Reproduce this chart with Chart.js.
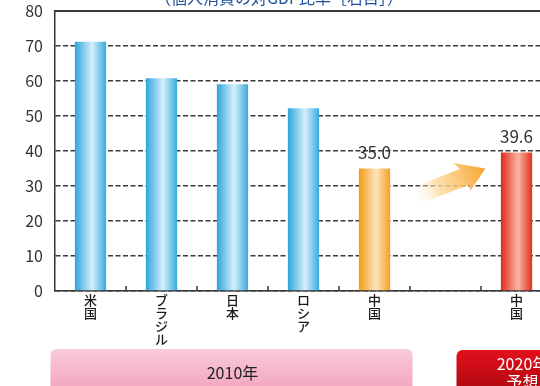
<!DOCTYPE html>
<html lang="ja">
<head>
<meta charset="utf-8">
<script src="https://cdn.jsdelivr.net/npm/chart.js@4/dist/chart.umd.min.js"></script>
<style>
  html, body { margin: 0; padding: 0; background: #fff; overflow: hidden; }
  #wrap { width: 560px; height: 386px; }
</style>
</head>
<body>
<div id="wrap"><canvas id="c" width="560" height="386"></canvas></div>
<script>
// 個人消費の対GDP比率（%）
const categories = [['米','国'], ['ブ','ラ','ジ','ル'], ['日','本'], ['ロ','シ','ア'], ['中','国'], '', ['中','国']];
const ratios = [71.2, 60.8, 59.1, 52.2, 35.0, null, 39.6];
const barKinds = ['blue', 'blue', 'blue', 'blue', 'orange', 'blue', 'red'];
const labelledBars = [4, 6];
const yTicks = [0, 10, 20, 30, 40, 50, 60, 70, 80];
const chartTitle = '（個人消費の対GDP比率［右目］）';
const periodLabels = ['2010年', ['2020年', '予想']];

const FONT = '"Noto Sans CJK JP", "Noto Sans", sans-serif';

const palettes = {
  blue:   ['#2ea4dc', '#d6f0fb', '#38aadf'],
  orange: ['#f59a12', '#fde4bc', '#f5a122'],
  red:    ['#e2281a', '#f7b6a4', '#e5301e']
};

function barGradient(ctx) {
  const chart = ctx.chart;
  const kind = barKinds[ctx.dataIndex] || 'blue';
  const p = palettes[kind];
  if (!chart.chartArea || !chart.scales.x) return p[0];
  const xs = chart.scales.x;
  const cx = xs.getPixelForValue(ctx.dataIndex);
  const w = (xs.width / categories.length) * 0.44;
  const g = chart.ctx.createLinearGradient(cx - w / 2, 0, cx + w / 2, 0);
  g.addColorStop(0, p[0]);
  g.addColorStop(0.55, p[1]);
  g.addColorStop(1, p[2]);
  return g;
}

const decorations = {
  id: 'decorations',
  beforeDatasetsDraw(chart) {
    const { ctx, scales: { x, y } } = chart;
    // orange arrow between the two 中国 bars
    const tailX = x.getPixelForValue(4) + 40, tailY = y.getPixelForValue(27);
    const tipX = x.getPixelForValue(6) - 31, tipY = y.getPixelForValue(35);
    const ang = Math.atan2(tipY - tailY, tipX - tailX);
    const len = Math.hypot(tipX - tailX, tipY - tailY);
    ctx.save();
    ctx.translate(tailX, tailY);
    ctx.rotate(ang);
    const g = ctx.createLinearGradient(0, 0, len, 0);
    g.addColorStop(0, 'rgba(255,245,225,0)');
    g.addColorStop(0.35, 'rgba(252,214,150,0.8)');
    g.addColorStop(1, '#f7a42a');
    ctx.fillStyle = g;
    ctx.beginPath();
    ctx.moveTo(0, -9);
    ctx.lineTo(len - 24, -9);
    ctx.lineTo(len - 28, -17);
    ctx.lineTo(len, 0);
    ctx.lineTo(len - 22, 15);
    ctx.lineTo(len - 22, 9);
    ctx.lineTo(0, 9);
    ctx.closePath();
    ctx.fill();
    ctx.restore();
  },
  afterDraw(chart) {
    const { ctx, chartArea: a, scales: { x, y } } = chart;
    ctx.save();
    // solid frame line at the top of the plot
    ctx.strokeStyle = '#3a3a3a';
    ctx.lineWidth = 2;
    ctx.beginPath();
    ctx.moveTo(a.left, a.top);
    ctx.lineTo(a.right, a.top);
    ctx.stroke();

    // small upward ticks between categories
    ctx.lineWidth = 1.5;
    ctx.strokeStyle = '#333';
    for (let i = 0; i < categories.length - 1; i++) {
      const bx = (x.getPixelForValue(i) + x.getPixelForValue(i + 1)) / 2;
      ctx.beginPath();
      ctx.moveTo(bx, a.bottom);
      ctx.lineTo(bx, a.bottom - 5);
      ctx.stroke();
    }

    // value labels
    ctx.fillStyle = '#333';
    ctx.font = '17px ' + FONT;
    ctx.textAlign = 'center';
    ctx.textBaseline = 'middle';
    labelledBars.forEach(i => {
      const v = ratios[i];
      ctx.fillText(v.toFixed(1), x.getPixelForValue(i), y.getPixelForValue(v) - 16);
    });

    // title (clipped at the top edge)
    ctx.fillStyle = '#1d4f9c';
    ctx.font = '16px ' + FONT;
    ctx.textBaseline = 'alphabetic';
    ctx.fillText(chartTitle, 279, 4);

    // period boxes
    const H = chart.height;
    const pinkL = x.getPixelForValue(0) - 40, pinkR = x.getPixelForValue(4) + 38;
    const boxTop = 349;
    let pg = ctx.createLinearGradient(0, boxTop, 0, H);
    pg.addColorStop(0, '#f9cbd8');
    pg.addColorStop(1, '#f3a9c0');
    ctx.fillStyle = pg;
    ctx.beginPath();
    ctx.roundRect(pinkL, boxTop, pinkR - pinkL, H - boxTop + 10, 6);
    ctx.fill();
    ctx.fillStyle = '#222';
    ctx.font = '16px ' + FONT;
    ctx.textBaseline = 'middle';
    ctx.fillText(periodLabels[0], (x.getPixelForValue(0) + x.getPixelForValue(4)) / 2, 373);

    const redL = x.getPixelForValue(6) - 60;
    let rg = ctx.createLinearGradient(0, boxTop, 0, H);
    rg.addColorStop(0, '#e3101c');
    rg.addColorStop(1, '#b50a12');
    ctx.fillStyle = rg;
    ctx.beginPath();
    ctx.roundRect(redL, boxTop + 1, 130, H - boxTop + 10, 6);
    ctx.fill();
    ctx.fillStyle = '#fff';
    ctx.font = '16px ' + FONT;
    const rc = x.getPixelForValue(6) + 6;
    ctx.fillText(periodLabels[1][0], rc, 364);
    ctx.fillText(periodLabels[1][1], rc, 382);
    ctx.restore();
  }
};

new Chart(document.getElementById('c'), {
  type: 'bar',
  data: {
    labels: categories,
    datasets: [{
      data: ratios,
      backgroundColor: barGradient,
      borderWidth: 0,
      categoryPercentage: 1,
      barPercentage: 0.44
    }]
  },
  options: {
    responsive: false,
    devicePixelRatio: 1,
    animation: false,
    layout: { padding: { top: 0, right: 8, left: 0, bottom: 0 } },
    plugins: { legend: { display: false }, tooltip: { enabled: false }, title: { display: false } },
    scales: {
      x: {
        grid: { display: false, drawTicks: false },
        border: { display: true, color: '#333', width: 1.5 },
        ticks: {
          color: '#1a1a1a',
          font: { family: FONT, size: 13, lineHeight: 1.0, weight: '500' },
          padding: 3,
          maxRotation: 0,
          autoSkip: false
        },
        afterFit(scale) { scale.height = 95; }
      },
      y: {
        min: 0,
        max: 80,
        afterBuildTicks(scale) { scale.ticks = yTicks.map(v => ({ value: v })); },
        grid: { color: '#3a3a3a', lineWidth: 1.4, drawTicks: false },
        border: { display: true, color: '#333', width: 1.5, dash: [5, 2.5] },
        ticks: {
          color: '#333',
          font: { family: FONT, size: 16 },
          padding: 12
        },
        afterFit(scale) {
          scale.width = 55;
          scale.paddingTop = 11;
          scale.paddingBottom = 0;
        }
      }
    }
  },
  plugins: [decorations]
});
</script>
</body>
</html>
